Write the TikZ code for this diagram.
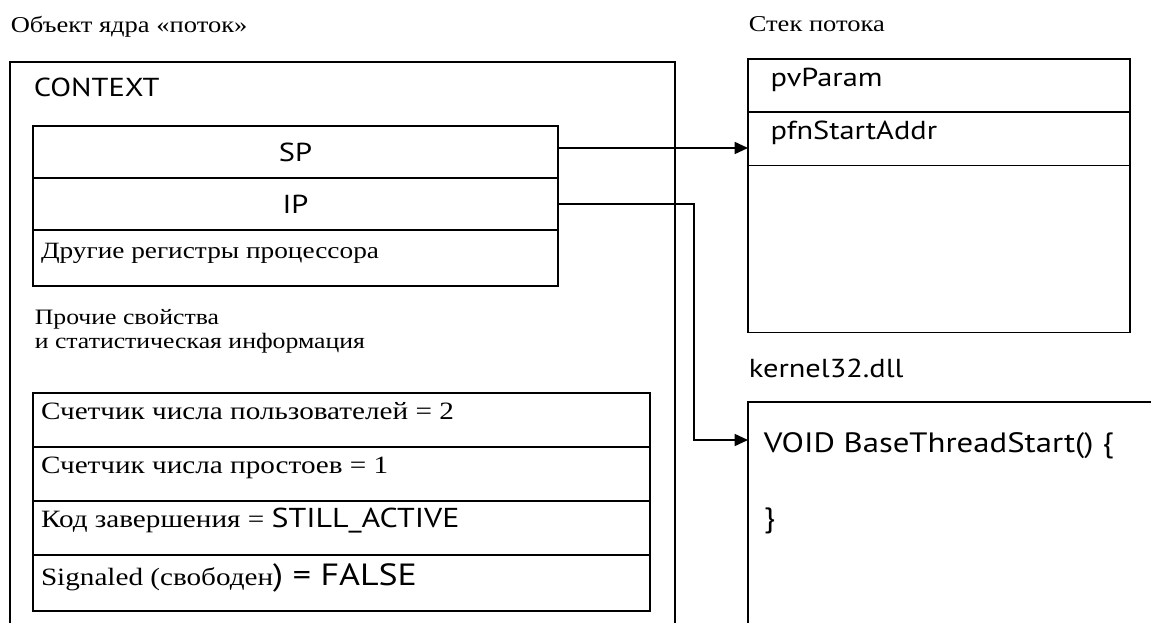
\documentclass[tikz,border=0pt]{standalone}
\usepackage{fontspec}
\setmainfont{Liberation Serif}[FakeStretch=1.17]
\newfontfamily\codefont{PT Sans}[FakeStretch=1.17]
\usetikzlibrary{positioning,arrows.meta}

\begin{document}
\begin{tikzpicture}[x=0.75pt,y=-0.75pt,line width=1.2pt,>={Triangle[length=10pt,width=9pt]},node distance=0pt,
  every node/.style={font=\fontsize{17}{16.5}\selectfont},
  caption/.style={anchor=base west,inner sep=0pt},
  code/.style={font=\codefont\fontsize{19.5}{22}\selectfont},
  frame/.style={draw,rectangle,outer sep=0pt,anchor=north west},
  leftrow/.style={frame,inner ysep=0pt,align=flush left,execute at begin node={\spaceskip=0pt\xspaceskip=0pt}},
  reg/.style={frame,code,minimum width=393.75pt},
  regrow/.style={leftrow,inner xsep=6pt,text width=381.75pt,text height=12pt,text depth=12pt,font=\fontsize{17.5}{18}\selectfont},
  statrow/.style={leftrow,inner xsep=6pt,text width=450.75pt,minimum height=40.5pt,text height=12pt,text depth=13.5pt,font=\fontsize{18.7}{19}\selectfont},
  stackrow/.style={leftrow,code,inner xsep=17pt,text width=252.5pt,text height=11pt,text depth=9pt}]
\useasboundingbox (0,0) rectangle (1151,623);
\clip (0,0) rectangle (1151,623);

% thread kernel object
\node[caption] (objtitle) at (10,33) {Объект ядра «поток»};
\node[frame,minimum width=498.75pt,minimum height=433.5pt] (thread) at (10,62) {};
\node[caption,code] (context) at (33,97) {CONTEXT};

\node[reg,minimum height=39pt] (sp) at (33,126) {SP};
\node[reg,below=of sp,minimum height=39pt] (ip) {IP};
\node[regrow,below=of ip,minimum height=42pt] (otherregs) {Другие регистры процессора};

\node[caption,align=left,font=\fontsize{16.5}{18}\selectfont] (misc) at (34,348) {Прочие свойства\\и статистическая информация};

\node[statrow] (users) at (33,393) {Счетчик числа пользователей = 2};
\node[statrow,below=of users] (idle) {Счетчик числа простоев = 1};
\node[statrow,below=of idle] (exitcode) {Код завершения = {\codefont\fontsize{20.5}{22}\selectfont STILL\_ACTIVE}};
\node[statrow,below=of exitcode,minimum height=42pt,text height=13pt,text depth=10pt] (signaled)
  {Signaled (свободен{\codefont\fontsize{23}{24}\selectfont) = FALSE}};

% thread stack
\node[caption] (stacktitle) at (748,32) {Стек потока};
\node[stackrow,minimum height=39.75pt] (param) at (748,59) {pvParam};
\node[stackrow,below=of param,minimum height=40pt] (startaddr) {pfnStartAddr};
\node[stackrow,below=of startaddr,minimum height=125.25pt] (stackfree) {};

% kernel32.dll
\node[caption,code] (dllname) at (748,377) {kernel32.dll};
\node[frame,minimum width=316.5pt,minimum height=178.5pt] (kernel) at (748,402) {};
\node[caption,code,font=\codefont\fontsize{21}{24}\selectfont] (entry) at (763,452) {VOID BaseThreadStart() \{};
\node[caption,code,font=\codefont\fontsize{21}{24}\selectfont] (closing) at (763,527) {\}};
\coordinate (entrypt) at (748,440);

\draw[->] ([yshift=3pt]sp.east) coordinate (spout) -- (spout -| startaddr.west);
\draw[->] (ip.east) -- ++(136,0) |- (entrypt);
\end{tikzpicture}
\end{document}
